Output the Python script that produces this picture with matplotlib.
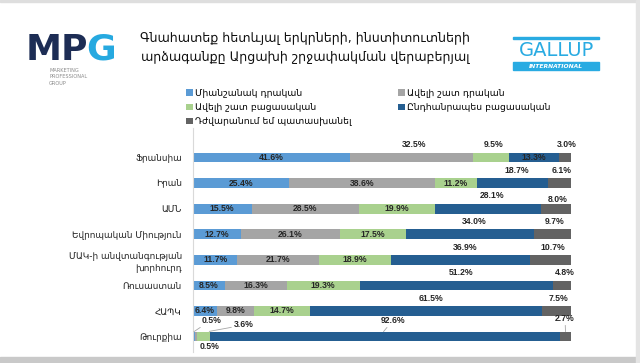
import matplotlib
matplotlib.use("Agg")
import matplotlib.pyplot as plt
from matplotlib.patches import Rectangle, Patch

# Data (percent of respondents)
categories = ["Ֆրանսիա", "Իրան", "ԱՄՆ", "Եվրոպական Միություն",
              "ՄԱԿ-ի անվտանգության\nխորհուրդ", "Ռուսաստան", "ՀԱՊԿ", "Թուրքիա"]
series_names = ["Միանշանակ դրական", "Ավելի շատ դրական", "Ավելի շատ բացասական",
                "Ընդհանրապես բացասական", "Դժվարանում եմ պատասխանել"]
definitely_positive = [41.6, 25.4, 15.5, 12.7, 11.7, 8.5, 6.4, 0.5]
rather_positive = [32.5, 38.6, 28.5, 26.1, 21.7, 16.3, 9.8, 0.5]
rather_negative = [9.5, 11.2, 19.9, 17.5, 18.9, 19.3, 14.7, 3.6]
definitely_negative = [13.3, 18.7, 28.1, 34.0, 36.9, 51.2, 61.5, 92.6]
hard_to_say = [3.0, 6.1, 8.0, 9.7, 10.7, 4.8, 7.5, 2.7]

series = [definitely_positive, rather_positive, rather_negative,
          definitely_negative, hard_to_say]
colors = ["#5B9BD5", "#A5A5A5", "#A9D18E", "#255E91", "#636363"]

ARM = ["DejaVu Sans"]
NUM = ["Liberation Sans", "DejaVu Sans"]

fig = plt.figure(figsize=(6.4, 3.63), dpi=100)
fig.patch.set_facecolor("white")

# frame decoration
fig.patches.append(Rectangle((0, 0), 1, 6 / 363, transform=fig.transFigure,
                             color="#c9c9c9", zorder=0))
fig.patches.append(Rectangle((0, 1 - 2 / 363), 1, 2 / 363, transform=fig.transFigure,
                             color="#dedede", zorder=0))
fig.patches.append(Rectangle((1 - 4 / 640, 0), 4 / 640, 1, transform=fig.transFigure,
                             color="#e4e4e4", zorder=0))

ax = fig.add_axes([193 / 640, 11 / 363, 378 / 640, 224 / 363])
n = len(categories)
ypos = list(range(n))
left = [0.0] * n
bar_h = 0.38
for vals, c in zip(series, colors):
    ax.barh(ypos, vals, left=left, height=bar_h, color=c, edgecolor="none")
    left = [l + v for l, v in zip(left, vals)]

ax.set_xlim(0, 100)
ax.set_ylim(7.606, -1.154)
ax.set_yticks(ypos)
ax.set_yticklabels(categories, family=ARM, fontsize=6.4, color="#222222",
                   linespacing=1.5)
ax.tick_params(axis="y", length=0, pad=8)
ax.set_xticks([])
for s in ["top", "right", "bottom"]:
    ax.spines[s].set_visible(False)
ax.spines["left"].set_color("#d9d9d9")
ax.spines["left"].set_linewidth(0.8)

# label placement: 'in' inside the segment, 'up' above the bar
place = [
    ["in", "up", "up", "in", "up"],
    ["in", "in", "in", "up", "up"],
    ["in", "in", "in", "up", "up"],
    ["in", "in", "in", "up", "up"],
    ["in", "in", "in", "up", "up"],
    ["in", "in", "in", "up", "up"],
    ["in", "in", "in", "up", "up"],
]
lab_kw = dict(family=NUM, fontsize=6.2, fontweight="bold", color="#262626",
              ha="center", va="center")
for i in range(n - 1):
    start = 0.0
    for j, vals in enumerate(series):
        v = vals[i]
        cx = start + v / 2
        if place[i][j] == "in":
            ax.text(cx, i, f"{v:.1f}%", **lab_kw)
        else:
            dy = 0.36 if (j == 4 and i == 2) else 0.5
            dx = 1.2 if j == 3 else 0.6
            ax.text(cx + dx, i - dy, f"{v:.1f}%", **lab_kw)
        start += v

# Turkey row: small segments with leader lines
t = n - 1
cum = [0.0]
for vals in series:
    cum.append(cum[-1] + vals[t])
line_kw = dict(arrowstyle="-", color="#a6a6a6", lw=0.6, shrinkA=0, shrinkB=0)
ax.annotate(f"{series[0][t]:.1f}%", xy=(cum[0] + series[0][t] / 2, t - 0.19),
            xytext=(4.8, t - 0.64), arrowprops=line_kw, **lab_kw)
ax.text(4.5, t + 0.41, f"{series[1][t]:.1f}%", **lab_kw)
ax.annotate(f"{series[2][t]:.1f}%", xy=(cum[3] - 0.3, t - 0.2),
            xytext=(13.5, t - 0.45), arrowprops=line_kw, **lab_kw)
ax.annotate(f"{series[3][t]:.1f}%", xy=(cum[3] + series[3][t] / 2 - 0.5, t - 0.19),
            xytext=(52.9, t - 0.64), arrowprops=line_kw, **lab_kw)
ax.annotate(f"{series[4][t]:.1f}%", xy=(cum[4] + series[4][t] / 2, t - 0.19),
            xytext=(98.4, t - 0.72), arrowprops=line_kw, **lab_kw)

# legend in two columns
handles = [Patch(facecolor=c, edgecolor="none") for c in colors]
leg_kw = dict(frameon=False, prop={"family": ARM, "size": 6.7},
              handlelength=0.7, handleheight=0.7, handletextpad=0.3,
              labelspacing=0.55, borderaxespad=0, borderpad=0,
              loc="upper left")
fig.legend([handles[0], handles[2], handles[4]],
           [series_names[0], series_names[2], series_names[4]],
           bbox_to_anchor=(186 / 640, 1 - 89 / 363), **leg_kw)
fig.legend([handles[1], handles[3]], [series_names[1], series_names[3]],
           bbox_to_anchor=(398 / 640, 1 - 89 / 363), **leg_kw)

# title
fig.text(305 / 640, 1 - 48 / 363,
         "Գնահատեք հետևյալ երկրների, ինստիտուտների\n"
         "արձագանքը Արցախի շրջափակման վերաբերյալ",
         family=ARM, fontsize=9.1, color="#111111", ha="center", va="center",
         linespacing=1.6)

# MPG logo
fig.text(26 / 640, 1 - 50 / 363, "MP", family=["DejaVu Sans"], fontsize=26,
         fontweight="bold", color="#1d2d55", ha="left", va="center")
fig.text(86 / 640, 1 - 50 / 363, "G", family=["DejaVu Sans"], fontsize=26,
         fontweight="bold", color="#26a9e0", ha="left", va="center")
fig.text(49 / 640, 1 - 77 / 363, "MARKETING\nPROFESSIONAL\nGROUP",
         family=["DejaVu Sans"], fontsize=3.6, color="#8a8a8a", ha="left",
         va="center", linespacing=1.4)

# Gallup logo
fig.patches.append(Rectangle((513 / 640, 1 - 39 / 363), 86 / 640, 2.2 / 363,
                             transform=fig.transFigure, color="#29ABE2"))
fig.text(556 / 640, 1 - 51 / 363, "GALLUP", family=["DejaVu Sans"], fontsize=14,
         color="#29ABE2", ha="center", va="center")
fig.patches.append(Rectangle((513 / 640, 1 - 70 / 363), 86 / 640, 8 / 363,
                             transform=fig.transFigure, color="#29ABE2"))
fig.text(556 / 640, 1 - 66 / 363, "INTERNATIONAL", family=["DejaVu Sans"],
         fontsize=4.3, fontweight="bold", style="italic", color="white",
         ha="center", va="center")

fig.savefig("out.png", dpi=100)
